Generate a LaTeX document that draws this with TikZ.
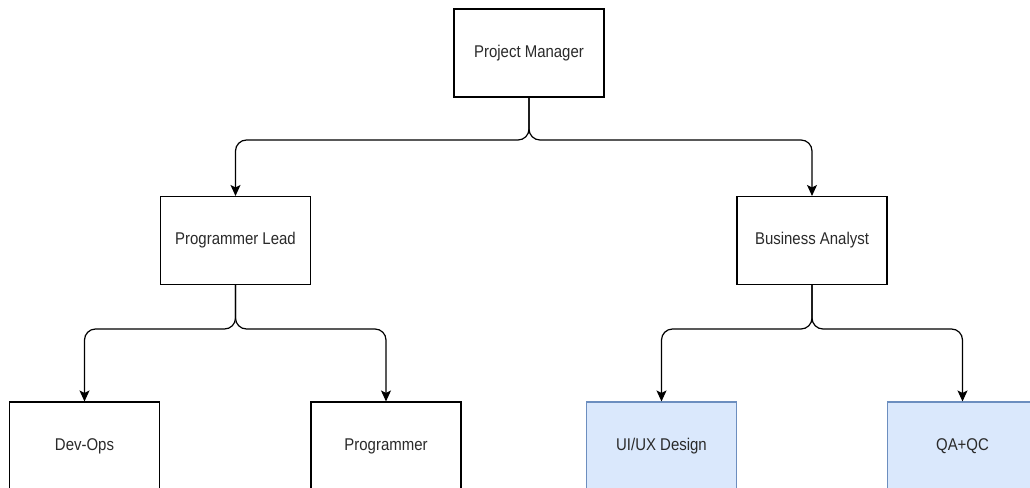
\documentclass[tikz,border=0pt]{standalone}
\usepackage{fontspec}
\setmainfont{Liberation Sans}[FakeStretch=0.88]
\usetikzlibrary{arrows.meta}
\definecolor{txt}{HTML}{2A2A2A}
\definecolor{bluefill}{HTML}{DAE8FC}
\definecolor{blueline}{HTML}{6C8EBF}
\tikzset{
  box/.style={draw=black, line width=1.1pt, minimum width=150pt, minimum height=88pt,
    inner sep=0pt, font=\fontsize{17}{20}\selectfont, text=txt, fill=white},
  bluebox/.style={box, fill=bluefill, draw=blueline},
  conn/.style={line width=1.2pt, rounded corners=11pt,
    -{Stealth[length=11pt,width=10pt,inset=2.5pt]}}
}
\begin{document}
\begin{tikzpicture}[x=1pt,y=-1pt]
\useasboundingbox (0,0) rectangle (1030,487);
\clip (0,0) rectangle (1030,487);
\fill[white] (0,0) rectangle (1030,487);
\node[box] (pm) at (529,53) {Project Manager};
\node[box] (pl) at (235.5,240.5) {Programmer Lead};
\node[box] (ba) at (812,240.5) {Business Analyst};
\node[box] (dev) at (84.5,446) {Dev-Ops};
\node[box] (prog) at (386,446) {Programmer};
\node[bluebox] (ui) at (661.5,446) {UI/UX Design};
\node[bluebox] (qa) at (962.5,446) {QA+QC};
\coordinate (j1) at (529,140);
\coordinate (j2) at (235.5,329);
\coordinate (j3) at (812,329);
\draw[conn] (pm.south) -- (j1) -| (pl.north);
\draw[conn] (pm.south) -- (j1) -| (ba.north);
\draw[conn] (pl.south) -- (j2) -| (dev.north);
\draw[conn] (pl.south) -- (j2) -| (prog.north);
\draw[conn] (ba.south) -- (j3) -| (ui.north);
\draw[conn] (ba.south) -- (j3) -| (qa.north);
\end{tikzpicture}
\end{document}
